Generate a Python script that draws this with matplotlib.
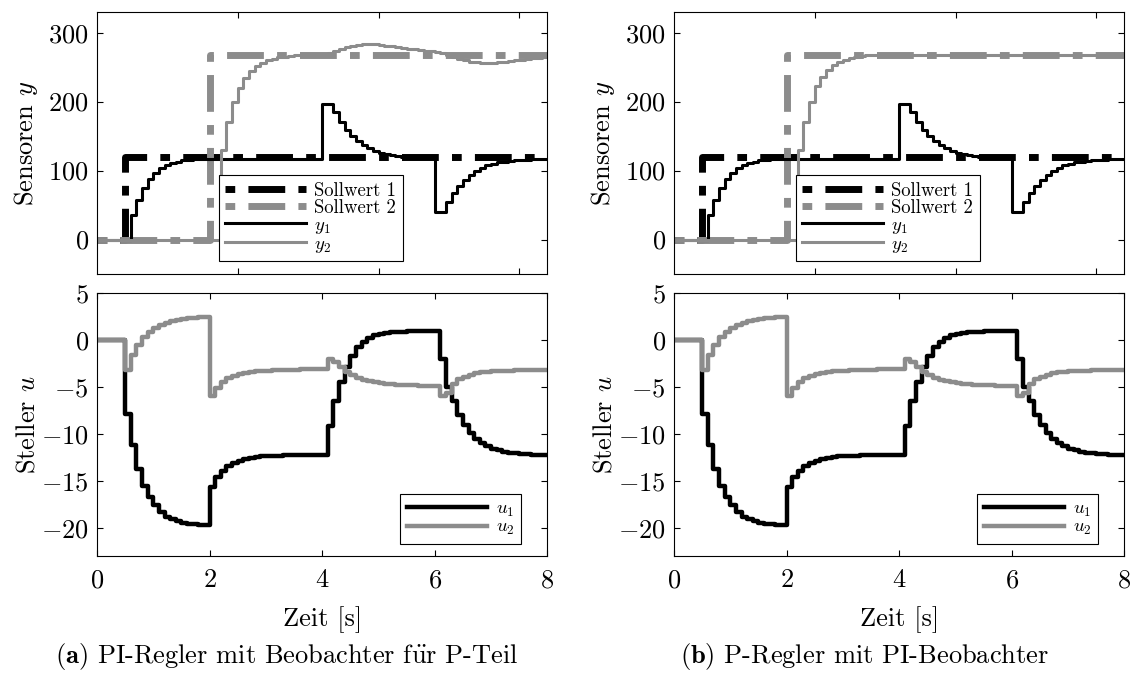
import numpy as np
import matplotlib
matplotlib.use("Agg")
import matplotlib.pyplot as plt

plt.rcParams['font.family'] = ['cmr10', 'Liberation Serif']
plt.rcParams['mathtext.fontset'] = 'cm'
plt.rcParams['axes.formatter.use_mathtext'] = True
plt.rcParams['axes.unicode_minus'] = True

# sample grid, Ts = 0.1 s
t = np.linspace(0, 8, 81)

# setpoints (switching times and levels)
sp1_t = [0.0, 0.5, 8.0]
sp1_v = [0, 120, 120]
sp2_t = [0.0, 2.0, 8.0]
sp2_v = [0, 268, 268]

y1 = [0, 0, 0, 0, 0, 0, 35, 58, 75, 88,
      97, 104, 108, 111, 113, 115, 116, 117, 117, 117,
      117, 117, 117, 117, 117, 117, 117, 117, 117, 117,
      117, 117, 117, 117, 117, 117, 117, 117, 117, 117,
      197, 197, 185, 171, 159, 150, 143, 137, 132, 128,
      126, 124, 122, 121, 120, 119, 118, 118, 118, 118,
      40, 40, 55, 68, 78, 87, 94, 100, 104, 108,
      110, 112, 113, 114, 115, 116, 116, 117, 117, 117, 117]

y2_a = [0, 0, 0, 0, 0, 0, 0, 0, 0, 0,
        0, 0, 0, 0, 0, 0, 0, 0, 0, 0,
        0, 0, 130, 170, 200, 220, 234, 244, 251, 256,
        260, 262, 264, 265, 266, 267, 267, 268, 268, 268,
        268, 270, 274, 277, 279, 281, 282, 283, 283, 283,
        282, 281, 280, 279, 278, 277, 276, 275, 274, 273,
        272, 271, 268, 265, 262, 260, 258, 257, 256, 256,
        256, 257, 258, 259, 260, 261, 262, 263, 263, 264, 264]

y2_b = [0, 0, 0, 0, 0, 0, 0, 0, 0, 0,
        0, 0, 0, 0, 0, 0, 0, 0, 0, 0,
        0, 0, 130, 170, 200, 222, 236, 246, 253, 258,
        261, 263, 265, 266, 267, 267, 268, 268, 268, 268,
        268, 268, 268, 268, 268, 268, 268, 268, 268, 268,
        268, 268, 268, 268, 268, 268, 268, 268, 268, 268,
        268, 268, 268, 268, 268, 268, 268, 268, 268, 268,
        268, 268, 268, 268, 268, 268, 268, 268, 268, 268, 268]

u1 = [0, 0, 0, 0, 0, -7.9, -11.2, -13.7, -15.5, -16.7,
      -17.6, -18.3, -18.8, -19.1, -19.3, -19.45, -19.55, -19.6, -19.65, -19.7,
      -15.7, -14.6, -13.9, -13.4, -13.1, -12.9, -12.7, -12.55, -12.45, -12.4,
      -12.35, -12.3, -12.3, -12.25, -12.25, -12.2, -12.2, -12.2, -12.2, -12.2,
      -12.2, -9.2, -6.5, -4.5, -2.9, -1.7, -0.8, -0.2, 0.2, 0.5,
      0.65, 0.75, 0.82, 0.87, 0.9, 0.93, 0.95, 0.97, 0.98, 0.99,
      1.0, -2.0, -5.0, -6.5, -8.0, -9.0, -9.9, -10.5, -11.0, -11.3,
      -11.6, -11.75, -11.9, -12.0, -12.05, -12.1, -12.15, -12.2, -12.2, -12.2, -12.2]

u2 = [0, 0, 0, 0, 0, -3.2, -1.6, -0.5, 0.3, 0.9,
      1.3, 1.6, 1.85, 2.0, 2.15, 2.25, 2.3, 2.35, 2.4, 2.4,
      -6.0, -5.1, -4.5, -4.1, -3.85, -3.65, -3.5, -3.4, -3.35, -3.3,
      -3.25, -3.2, -3.2, -3.15, -3.15, -3.15, -3.1, -3.1, -3.1, -3.1,
      -3.1, -2.0, -2.3, -2.9, -3.4, -3.75, -4.05, -4.25, -4.4, -4.5,
      -4.6, -4.65, -4.7, -4.75, -4.78, -4.8, -4.82, -4.85, -4.87, -4.9,
      -4.9, -6.0, -5.6, -4.7, -4.2, -3.9, -3.7, -3.55, -3.45, -3.4,
      -3.35, -3.3, -3.28, -3.25, -3.23, -3.22, -3.2, -3.2, -3.2, -3.2, -3.2]

captions = [r"$\mathbf{(a)}$ PI-Regler mit Beobachter f$\ddot{\mathrm{u}}$r P-Teil",
            r"$\mathbf{(b)}$ P-Regler mit PI-Beobachter"]

GREY = '#8c8c8c'
FS = 19
LFS = 13.5
dashdot = (0, (1.4, 1.9, 5.3, 1.9))


def style_axes(ax):
    ax.tick_params(direction='in', length=4, width=0.8, labelsize=FS,
                   top=True, right=True, pad=6)
    for s in ax.spines.values():
        s.set_linewidth(0.8)


def make_legend(ax, anchor):
    leg = ax.legend(loc='lower left', bbox_to_anchor=anchor,
                    fontsize=LFS, handlelength=4.3,
                    handletextpad=0.45, labelspacing=-0.05, borderpad=0.35,
                    borderaxespad=0, fancybox=False, framealpha=1,
                    edgecolor='black')
    leg.get_frame().set_linewidth(0.8)
    return leg


def draw_panel(fig, left, y2, caption, cap_x):
    ax1 = fig.add_axes([left, 0.5953, 0.3965, 0.387])
    ax2 = fig.add_axes([left, 0.1787, 0.3965, 0.3885])

    ax1.plot(sp1_t, sp1_v, drawstyle='steps-post', color='black', lw=5,
             ls=dashdot, dash_capstyle='butt', label='Sollwert 1')
    ax1.plot(sp2_t, sp2_v, drawstyle='steps-post', color=GREY, lw=5,
             ls=dashdot, dash_capstyle='butt', label='Sollwert 2')
    ax1.plot(t, y1, drawstyle='steps-post', color='black', lw=2.2, label='$y_1$')
    ax1.plot(t, y2, drawstyle='steps-post', color=GREY, lw=2.2, label='$y_2$')
    ax1.set_xlim(0, 8)
    ax1.set_ylim(-50, 330)
    ax1.set_xticks([2.5, 5, 7.5])
    ax1.set_xticklabels([])
    ax1.set_yticks([0, 100, 200, 300])
    ax1.set_ylabel('Sensoren $y$', fontsize=FS)
    ax1.yaxis.set_label_coords(-0.127, 0.5)
    style_axes(ax1)
    make_legend(ax1, (0.27, 0.048))

    ax2.plot(t, u1, drawstyle='steps-post', color='black', lw=3.2, label='$u_1$')
    ax2.plot(t, u2, drawstyle='steps-post', color=GREY, lw=3.2, label='$u_2$')
    ax2.set_xlim(0, 8)
    ax2.set_ylim(-23, 5)
    ax2.set_xticks([0, 2, 4, 6, 8])
    ax2.set_yticks([-20, -15, -10, -5, 0, 5])
    ax2.set_ylabel('Steller $u$', fontsize=FS)
    ax2.yaxis.set_label_coords(-0.127, 0.5)
    ax2.set_xlabel('Zeit [s]', fontsize=FS, labelpad=10)
    style_axes(ax2)
    ax2.tick_params(axis='x', pad=9)
    make_legend(ax2, (0.673, 0.046))

    fig.text(cap_x, 1 - 657 / 677, caption, fontsize=FS, ha='center', va='center')


fig = plt.figure(figsize=(11.36, 6.77), dpi=100)
draw_panel(fig, 97 / 1136, y2_a, captions[0], 287 / 1136)
draw_panel(fig, 674 / 1136, y2_b, captions[1], 865 / 1136)
fig.savefig('out.png', dpi=100)
